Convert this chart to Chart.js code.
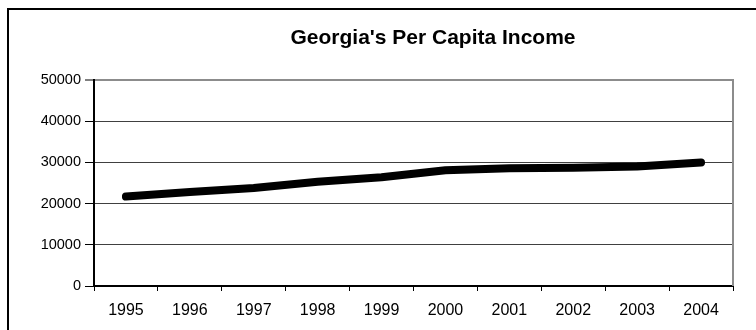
<!DOCTYPE html>
<html>
<head>
<meta charset="utf-8">
<script src="https://cdn.jsdelivr.net/npm/chart.js@4"></script>
<style>
  html, body { margin: 0; padding: 0; background: #fff; }
  body { width: 756px; height: 330px; overflow: hidden; position: relative; }
  #frame { position: absolute; left: 7px; top: 8px; width: 900px; height: 400px; border: 2px solid #000; box-sizing: border-box; }
  #chart { position: absolute; left: 0; top: 0; }
</style>
</head>
<body>
<div id="frame"></div>
<canvas id="chart" width="866" height="330"></canvas>
<script>
// datos del grafico
const years = ['1995','1996','1997','1998','1999','2000','2001','2002','2003','2004'];
const income = [21700, 22800, 23800, 25300, 26400, 28100, 28600, 28700, 29000, 30000];
const yMin = 0, yMax = 50000, yStep = 10000;
const chartTitle = "Georgia's Per Capita Income";

const fontFam = "'Liberation Sans', Arial, sans-serif";

// titulo centrado sobre el marco completo (el marco sigue fuera del recorte)
const frameTitle = {
  id: 'frameTitle',
  afterDraw(chart) {
    const { ctx } = chart;
    ctx.save();
    ctx.fillStyle = '#000';
    ctx.font = 'bold 21px ' + fontFam;
    ctx.textAlign = 'center';
    ctx.textBaseline = 'middle';
    ctx.fillText(chartTitle, chart.width / 2, 38.5);
    ctx.restore();
  }
};

// borde gris derecho del area del grafico (estilo Excel)
const plotBorder = {
  id: 'plotBorder',
  beforeDatasetsDraw(chart) {
    const { ctx, chartArea: a } = chart;
    ctx.save();
    ctx.strokeStyle = '#8c8c8c';
    ctx.lineWidth = 2;
    ctx.beginPath();
    ctx.moveTo(a.right, a.top - 1);
    ctx.lineTo(a.right, a.bottom);
    ctx.stroke();
    ctx.restore();
  }
};

new Chart(document.getElementById('chart'), {
  type: 'line',
  data: {
    labels: years,
    datasets: [{
      label: chartTitle,
      data: income,
      borderColor: '#000',
      backgroundColor: '#000',
      borderWidth: 8,
      borderCapStyle: 'round',
      borderJoinStyle: 'round',
      pointRadius: 0,
      tension: 0,
      fill: false
    }]
  },
  options: {
    responsive: false,
    animation: false,
    layout: { padding: { left: 0, right: 133, top: 80, bottom: 0 } },
    plugins: {
      legend: { display: false },
      tooltip: { enabled: false },
      title: { display: false }
    },
    scales: {
      x: {
        offset: true,
        grid: { offset: true, drawOnChartArea: false, drawTicks: true, tickLength: 5, tickColor: '#000', tickWidth: 1 },
        border: { color: '#000', width: 2 },
        ticks: { color: '#000', font: { family: fontFam, size: 16 }, padding: 10, maxRotation: 0, autoSkip: false },
        afterFit(s) { s.height = 44; }
      },
      y: {
        min: yMin,
        max: yMax,
        grid: {
          color: c => c.tick && c.tick.value === yMax ? '#8c8c8c' : '#404040',
          lineWidth: c => c.tick && c.tick.value === yMax ? 2 : 1,
          tickColor: '#000',
          tickLength: 9,
          tickWidth: 1
        },
        border: { color: '#000', width: 2 },
        ticks: {
          stepSize: yStep,
          color: '#000',
          padding: 4,
          font: { family: fontFam, size: 14.5 },
          callback: v => String(v)
        },
        afterFit(s) { s.width = 94; }
      }
    }
  },
  plugins: [plotBorder, frameTitle]
});
</script>
</body>
</html>
